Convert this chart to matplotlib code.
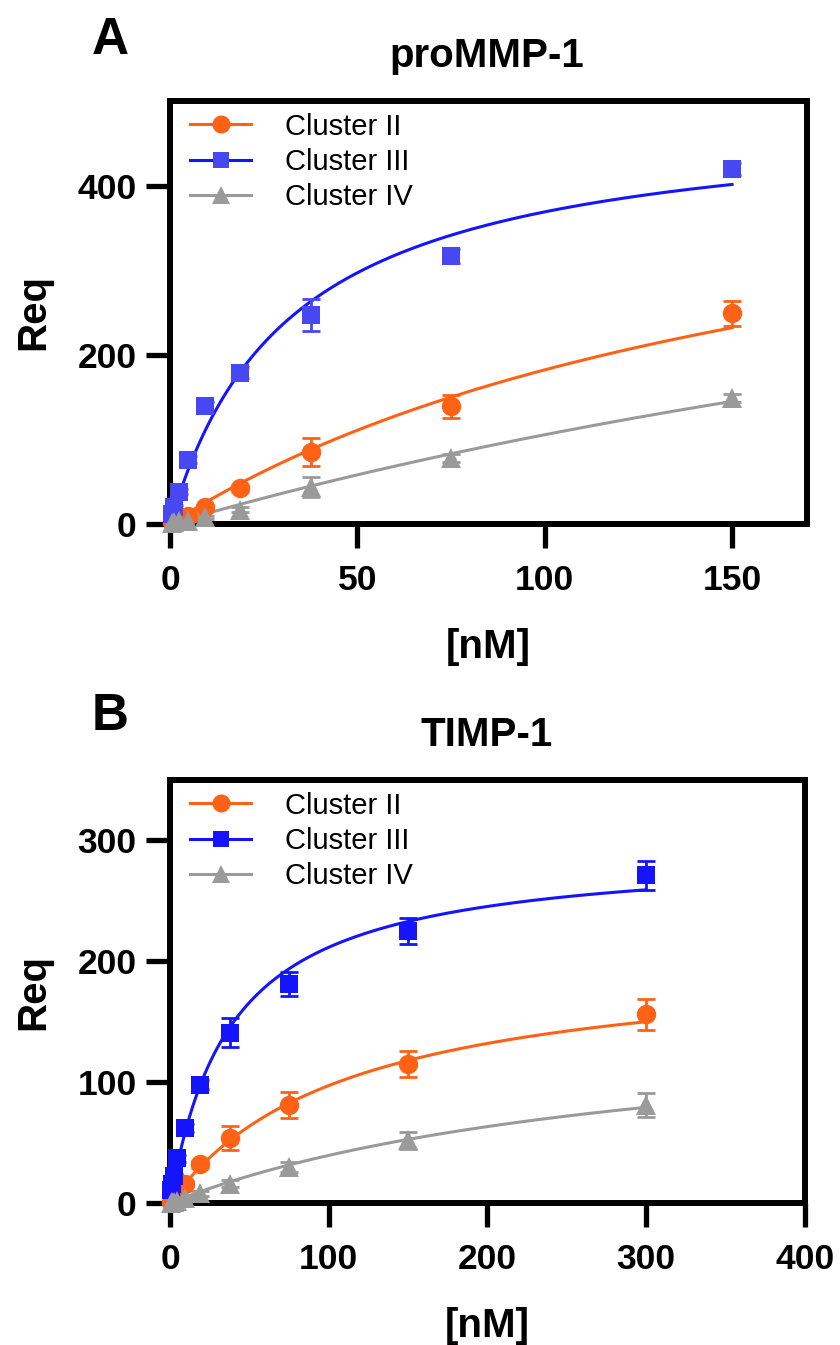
"""Saturation binding of cluster peptides to proMMP-1 and TIMP-1."""

import numpy as np
import matplotlib.pyplot as plt

plt.rcParams['font.family'] = ['Liberation Sans', 'DejaVu Sans']

#########
# DATA  #
#########
clusters = ["Cluster II", "Cluster III", "Cluster IV"]

# Panel A: proMMP-1
conc_a = [0.59, 1.17, 2.34, 4.69, 9.375, 18.75, 37.5, 75, 150]
req_a = {
    "Cluster II":  [2, 4, 6, 10, 20, 42, 85, 139, 249],
    "Cluster III": [12, 20, 38, 76, 139, 179, 247, 317, 420],
    "Cluster IV":  [1, 2, 3, 4, 8, 17, 44, 78, 149],
}
err_a = {
    "Cluster II":  [1, 1, 1, 2, 3, 4, 17, 14, 15],
    "Cluster III": [1, 2, 3, 4, 5, 6, 19, 8, 7],
    "Cluster IV":  [1, 1, 1, 1, 2, 3, 12, 5, 5],
}
# hyperbolic fit parameters (Bmax, Kd)
fit_a = {"Cluster II": (512, 181), "Cluster III": (487, 32), "Cluster IV": (573, 443)}

# Panel B: TIMP-1
conc_b = [0.59, 1.17, 2.34, 4.69, 9.375, 18.75, 37.5, 75, 150, 300]
req_b = {
    "Cluster II":  [1, 2, 5, 9, 16, 32, 54, 81, 115, 156],
    "Cluster III": [11, 16, 22, 37, 62, 98, 141, 181, 225, 271],
    "Cluster IV":  [0, 1, 1, 2, 4, 8, 16, 30, 52, 81],
}
err_b = {
    "Cluster II":  [1, 1, 1, 2, 2, 3, 10, 11, 11, 13],
    "Cluster III": [1, 2, 2, 3, 3, 4, 12, 10, 11, 12],
    "Cluster IV":  [1, 1, 1, 1, 1, 2, 3, 4, 7, 10],
}
fit_b = {"Cluster II": (206, 112), "Cluster III": (292, 38), "Cluster IV": (160, 306)}

colors = {"Cluster II": "#FF6214", "Cluster III": "#1414FF", "Cluster IV": "#9A9A9A"}
markers = {"Cluster II": "o", "Cluster III": "s", "Cluster IV": "^"}
msizes = {"Cluster II": 14, "Cluster III": 13, "Cluster IV": 14}


def panel(ax, conc, req, err, fit, xmax, ymax, xticks, yticks, marker_colors=None):
    xs = np.linspace(0, max(conc), 300)
    for c in clusters:
        mc = colors[c] if marker_colors is None else marker_colors[c]
        bmax, kd = fit[c]
        ax.plot(xs, bmax * xs / (kd + xs), color=colors[c], lw=2.2, zorder=2)
        ax.errorbar(conc, req[c], yerr=err[c], fmt='none', ecolor=mc,
                    elinewidth=2, capsize=6.5, capthick=2, zorder=3, clip_on=False)
        ax.plot(conc, req[c], linestyle='none', marker=markers[c], color=mc,
                markersize=msizes[c], markeredgewidth=0, zorder=4, clip_on=False)
        # legend proxy
        ax.plot([], [], color=colors[c], lw=2.2, marker=markers[c],
                markersize=msizes[c] - 1, markeredgewidth=0, markerfacecolor=mc, label=c)
    ax.set_xlim(0, xmax)
    ax.set_ylim(0, ymax)
    ax.set_xticks(xticks)
    ax.set_yticks(yticks)
    for s in ax.spines.values():
        s.set_linewidth(4.3)
    ax.tick_params(width=3.8, length=17, labelsize=25.5)
    ax.tick_params(axis='x', pad=12)
    ax.tick_params(axis='y', pad=7)
    for lab in ax.get_xticklabels() + ax.get_yticklabels():
        lab.set_fontweight('bold')
    ax.set_xlabel("[nM]", fontsize=29, fontweight='bold', labelpad=22)
    ax.set_ylabel("Req", fontsize=29, fontweight='bold', labelpad=18)
    ax.legend(loc='upper left', frameon=False, fontsize=21, handlelength=2.1,
              handletextpad=1.15, labelspacing=0.25, borderaxespad=0,
              bbox_to_anchor=(0.013, 1.0))


fig = plt.figure(figsize=(8.4, 13.45), dpi=100)
ax_a = fig.add_axes([170 / 840, 1 - 524 / 1345, 637 / 840, 423 / 1345])
ax_b = fig.add_axes([170 / 840, 1 - 1203 / 1345, 635 / 840, 423 / 1345])

light = {"Cluster II": "#FF6214", "Cluster III": "#4848F2", "Cluster IV": "#9A9A9A"}
panel(ax_a, conc_a, req_a, err_a, fit_a, 170, 500, [0, 50, 100, 150], [0, 200, 400], light)
panel(ax_b, conc_b, req_b, err_b, fit_b, 400, 350, [0, 100, 200, 300, 400], [0, 100, 200, 300])

fig.text(110 / 840, 1 - 40 / 1345, "A", fontsize=37, fontweight='bold', ha='center', va='center')
fig.text(487 / 840, 1 - 56 / 1345, "proMMP-1", fontsize=29, fontweight='bold', ha='center', va='center')
fig.text(110 / 840, 1 - 717 / 1345, "B", fontsize=37, fontweight='bold', ha='center', va='center')
fig.text(487 / 840, 1 - 735 / 1345, "TIMP-1", fontsize=29, fontweight='bold', ha='center', va='center')

fig.savefig("out.png", dpi=100)
